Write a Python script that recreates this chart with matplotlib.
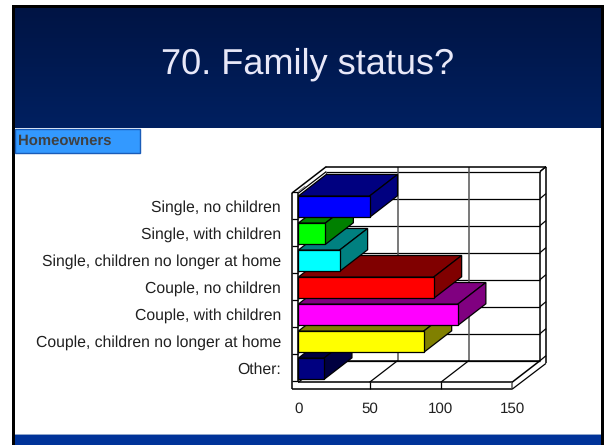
import matplotlib
matplotlib.use('Agg')
import matplotlib.pyplot as plt
import numpy as np
from matplotlib.patches import Polygon, Rectangle
from matplotlib.transforms import ScaledTranslation

plt.rcParams['font.family'] = ['Liberation Sans', 'DejaVu Sans']
plt.rcParams['text.hinting'] = 'none'

categories = ['Single, no children', 'Single, with children',
              'Single, children no longer at home', 'Couple, no children',
              'Couple, with children', 'Couple, children no longer at home',
              'Other:']
values = [50, 19, 29, 95, 112, 88, 18]
front_colors = ['#0000ff', '#00ff00', '#00ffff', '#ff0000', '#ff00ff', '#ffff00', '#000080']
dark_colors = ['#000080', '#008000', '#008080', '#800000', '#800080', '#808000', '#000040']
x_ticks = [0, 50, 100, 150]

W, H = 604, 445
# front plane of the chart in pixels
PX0, PX1, PY0, PY1 = 298.3, 512.0, 193.2, 382.3
# depth of the 3d box in pixels, then in data units
DEPTH_X, DEPTH_Y = 28.0, 21.6
XMAX = 150
px_per_val = (PX1 - PX0) / XMAX
px_per_row = (PY1 - PY0) / len(categories)
dv = DEPTH_X / px_per_val
dr = DEPTH_Y / px_per_row


def slide_background(fig):
    bg = fig.add_axes([0, 0, 1, 1])
    bg.axis('off')
    grad = np.linspace(0, 1, 64).reshape(-1, 1)
    cmap = matplotlib.colors.LinearSegmentedColormap.from_list('band', ['#001444', '#002060'])
    bg.imshow(grad, cmap=cmap, extent=[15, W, 128, 7], aspect='auto', zorder=1)
    bg.set_xlim(0, W)
    bg.set_ylim(H, 0)
    bg.add_patch(Rectangle((15, 435), W - 15, 10, color='#003399', lw=0, zorder=1))
    bg.add_patch(Rectangle((15, 434), W - 15, 1, color='#8fa6cc', lw=0, zorder=1))
    # black slide frame
    bg.add_patch(Rectangle((12, 5), W - 12, 2.5, color='black', lw=0, zorder=2))
    bg.add_patch(Rectangle((12, 5), 3, H - 5, color='black', lw=0, zorder=2))
    bg.add_patch(Rectangle((W - 3, 5), 3, H - 5, color='black', lw=0, zorder=2))
    bg.add_patch(Rectangle((15, 128.5), 125, 24, facecolor='#3399ff', edgecolor='#1a5cb8', lw=1, zorder=2))
    bg.text(18, 141, 'Homeowners', fontsize=10.7, fontweight='bold', color='#404040',
            va='center', ha='left', zorder=3)
    bg.text(308, 64.5, '70. Family status?', fontsize=26, color='#e8e8f8',
            va='center', ha='center', zorder=3)


def box_lines(ax):
    """Walls, floor and gridlines of the 3d box."""
    n = len(categories)
    # wall thickness in data units
    tx = 6.0 / px_per_val
    ty = 5.0 / px_per_row
    fx = 6.5 / px_per_val
    fy = 7.0 / px_per_row
    lc = 'black'
    lw = 0.9
    line = lambda xs, ys, c=lc, w=lw: ax.plot(xs, ys, color=c, lw=w, clip_on=False,
                                              solid_capstyle='butt', zorder=2)
    # back wall rows and their continuation on the right wall
    for r in range(n + 1):
        line([dv, XMAX + dv], [r - dr, r - dr])
        line([XMAX + dv, XMAX + dv + tx], [r - dr, r - dr - ty])
    # back wall verticals
    for v in x_ticks[1:3]:
        line([v + dv, v + dv], [-dr - ty, n - dr], c='#555555', w=1.1)
        line([v, v + dv], [n, n - dr])
        line([v, v], [n, n + fy])
    # left wall steps
    for r in range(n + 1):
        line([-fx, 0], [r - 0.06, r - 0.06])
        line([0, dv * 0.25], [r - 0.06, r - 0.06 - dr * 0.25], c='#777777', w=0.7)
    # outer box
    line([-fx, -fx], [0, n + fy], w=1.1)
    line([0, 0], [0, n], w=1.1)
    line([-fx, XMAX], [n + fy, n + fy], w=1.1)
    line([0, XMAX], [n, n], w=1.1)
    line([XMAX, XMAX], [n, n + fy], c='#555555', w=1.1)
    line([XMAX, XMAX + dv], [n, n - dr], w=1.1)
    line([XMAX, XMAX + dv + tx], [n + fy, n - dr + 0.1], w=0.9)
    line([XMAX + dv, XMAX + dv], [-dr, n - dr], w=1.1)
    line([XMAX + dv + tx, XMAX + dv + tx], [-dr - ty, n - dr + 0.1], w=1.1)
    line([XMAX + dv, XMAX + dv + tx], [-dr, -dr - ty])
    line([dv, XMAX + dv + tx], [-dr - ty, -dr - ty], w=1.1)
    line([-fx, dv], [0, -dr - ty], w=1.1)
    line([0, dv], [0, -dr], w=0.9)
    line([dv, dv], [-dr, n - dr], c='#555555', w=0.9)
    line([dv, XMAX + dv], [n - dr, n - dr], w=1.1)
    line([0, dv], [n, n - dr], w=0.9)


def bars_3d(ax):
    """Bars are drawn from the bottom row up so upper ones overlap."""
    half = 21.3 / px_per_row / 2
    n = len(values)
    for i, val in enumerate(values):
        top = i + 0.5 - half
        bot = i + 0.5 + half
        z = 3 + n - i
        # top face
        ax.add_patch(Polygon([(0, top), (val, top), (val + dv, top - dr), (dv, top - dr)],
                             facecolor=dark_colors[i], edgecolor='black', lw=0.9,
                             clip_on=False, zorder=z))
        # side face
        ax.add_patch(Polygon([(val, top), (val + dv, top - dr), (val + dv, bot - dr), (val, bot)],
                             facecolor=dark_colors[i], edgecolor='black', lw=0.9,
                             clip_on=False, zorder=z))
        # front face
        ax.add_patch(Polygon([(0, top), (val, top), (val, bot), (0, bot)],
                             facecolor=front_colors[i], edgecolor='black', lw=0.9,
                             clip_on=False, zorder=z))


def main():
    fig = plt.figure(figsize=(W / 100, H / 100), dpi=100, facecolor='white')
    slide_background(fig)

    ax = fig.add_axes([PX0 / W, 1 - PY1 / H, (PX1 - PX0) / W, (PY1 - PY0) / H])
    ax.patch.set_alpha(0)
    ax.set_xlim(0, XMAX)
    ax.set_ylim(len(categories), 0)
    for s in ax.spines.values():
        s.set_visible(False)

    box_lines(ax)
    bars_3d(ax)

    ax.set_xticks(x_ticks)
    ax.set_xticklabels([str(t) for t in x_ticks], fontsize=10.9, color='#202020')
    ax.set_yticks(np.arange(len(categories)) + 0.5)
    ax.set_yticklabels(categories, fontsize=11.3, color='#202020')
    ax.tick_params(axis='x', length=0, pad=14)
    ax.tick_params(axis='y', length=0, pad=12.5)
    # labels sit a pixel higher than the centre of the row
    nudge = ScaledTranslation(0, 1 / 100, fig.dpi_scale_trans)
    for lab in ax.get_yticklabels():
        lab.set_transform(lab.get_transform() + nudge)

    fig.savefig('out.png', dpi=100, facecolor='white')
    plt.close(fig)


if __name__ == "__main__":
    main()
